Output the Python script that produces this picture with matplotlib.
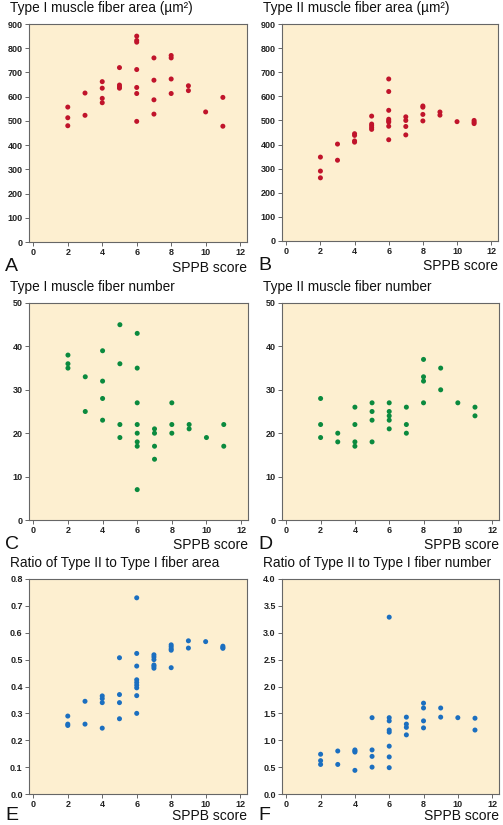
import matplotlib
matplotlib.use('Agg')
import matplotlib.pyplot as plt

plt.rcParams['font.family'] = ['Liberation Sans', 'DejaVu Sans']

# SPPB score / value pairs
a_x = [2, 2, 2, 3, 3, 4, 4, 4, 4, 5, 5, 5, 5, 6, 6, 6, 6, 6, 6, 6,
       7, 7, 7, 7, 8, 8, 8, 8, 9, 9, 10, 11, 11]
a_y = [557, 513, 480, 615, 523, 662, 635, 593, 575, 720, 648, 640, 635,
       850, 832, 825, 712, 638, 613, 498, 760, 668, 587, 528,
       770, 760, 673, 613, 645, 625, 537, 597, 478]

b_x = [2, 2, 2, 3, 3, 4, 4, 4, 4, 5, 5, 5, 5, 5, 6, 6, 6, 6, 6, 6, 6, 6,
       7, 7, 7, 7, 8, 8, 8, 8, 9, 9, 10, 11, 11, 11]
b_y = [348, 290, 262, 402, 335, 445, 438, 415, 410, 518, 485, 478, 470, 463,
       672, 620, 542, 505, 498, 493, 476, 420, 515, 500, 475, 440,
       560, 555, 525, 498, 535, 522, 495, 500, 493, 487]

c_x = [2, 2, 2, 3, 3, 4, 4, 4, 4, 5, 5, 5, 5, 6, 6, 6, 6, 6, 6, 6, 6,
       7, 7, 7, 7, 8, 8, 8, 9, 9, 10, 11, 11]
c_y = [38, 36, 35, 33, 25, 39, 32, 28, 23, 45, 36, 22, 19,
       43, 35, 27, 22, 20, 18, 17, 7, 21, 20, 17, 14, 27, 22, 20,
       22, 21, 19, 22, 17]

d_x = [2, 2, 2, 3, 3, 4, 4, 4, 4, 5, 5, 5, 5, 6, 6, 6, 6, 6,
       7, 7, 7, 8, 8, 8, 8, 9, 9, 10, 11, 11]
d_y = [28, 22, 19, 20, 18, 26, 22, 18, 17, 27, 25, 23, 18,
       27, 25, 24, 23, 21, 26, 22, 20, 37, 33, 32, 27, 35, 30, 27, 26, 24]

e_x = [2, 2, 2, 3, 3, 4, 4, 4, 4, 5, 5, 5, 5, 6, 6, 6, 6, 6, 6, 6, 6, 6,
       7, 7, 7, 7, 7, 7, 8, 8, 8, 8, 8, 9, 9, 10, 11, 11, 11]
e_y = [0.29, 0.26, 0.255, 0.345, 0.26, 0.365, 0.355, 0.34, 0.245,
       0.507, 0.37, 0.34, 0.28,
       0.73, 0.523, 0.476, 0.425, 0.415, 0.405, 0.395, 0.366, 0.30,
       0.518, 0.51, 0.50, 0.48, 0.475, 0.468,
       0.555, 0.548, 0.54, 0.535, 0.47, 0.57, 0.543, 0.567, 0.55, 0.545, 0.542]

f_x = [2, 2, 2, 3, 3, 4, 4, 4, 4, 5, 5, 5, 5, 6, 6, 6, 6, 6, 6, 6, 6,
       7, 7, 7, 7, 8, 8, 8, 8, 9, 9, 10, 11, 11]
f_y = [0.74, 0.62, 0.55, 0.80, 0.55, 0.82, 0.80, 0.78, 0.44,
       1.42, 0.82, 0.70, 0.50,
       3.29, 1.42, 1.36, 1.19, 1.15, 0.89, 0.69, 0.49,
       1.43, 1.30, 1.24, 1.10, 1.69, 1.60, 1.36, 1.23, 1.60, 1.43, 1.42, 1.41, 1.19]

RED = '#c0142b'
GREEN = '#0b8a3e'
BLUE = '#1b6fc0'

panels = [
    ('A', 'Type I muscle fiber area (\u00b5m\u00b2)', a_x, a_y, RED, 900, range(0, 901, 100), '{:.0f}'),
    ('B', 'Type II muscle fiber area (\u00b5m\u00b2)', b_x, b_y, RED, 900, range(0, 901, 100), '{:.0f}'),
    ('C', 'Type I muscle fiber number', c_x, c_y, GREEN, 50, range(0, 51, 10), '{:.0f}'),
    ('D', 'Type II muscle fiber number', d_x, d_y, GREEN, 50, range(0, 51, 10), '{:.0f}'),
    ('E', 'Ratio of Type II to Type I fiber area', e_x, e_y, BLUE, 0.8,
     [i / 10 for i in range(9)], '{:.1f}'),
    ('F', 'Ratio of Type II to Type I fiber number', f_x, f_y, BLUE, 4.0,
     [i / 2 for i in range(9)], '{:.1f}'),
]

# axes boxes in pixels: (left, top, right, bottom)
# bottom row nudged up a few px so its labels fit inside the canvas
boxes = [(29, 24, 247, 242), (282, 24, 498, 241),
         (29, 303, 248, 520), (282, 303, 499, 520),
         (29, 579, 247, 794), (282, 579, 499, 794)]

W, H = 503, 825
fig = plt.figure(figsize=(W / 100, H / 100), dpi=100)
fig.patch.set_facecolor('white')

for i, ((letter, title, xs, ys, color, ymax, yticks, fmt), (l, t, r, b)) in enumerate(zip(panels, boxes)):
    ax = fig.add_axes([l / W, 1 - b / H, (r - l) / W, (b - t) / H])
    ax.set_facecolor('#fdefd0')
    ax.scatter(xs, ys, s=13, color=color, edgecolors='none', zorder=3)
    ax.set_xlim(-0.25, 12.4)
    ax.set_ylim(0, ymax)
    ax.set_xticks(range(0, 13, 2))
    ax.set_yticks(list(yticks))
    ax.set_yticklabels([fmt.format(v) for v in yticks])
    for s in ax.spines.values():
        s.set_color('#666666')
        s.set_linewidth(0.8)
    ax.tick_params(length=3, width=0.7, color='#666666', labelsize=6.5,
                   labelcolor='#222222', pad=1.5)
    for lab in ax.get_xticklabels() + ax.get_yticklabels():
        lab.set_fontweight('bold')
    # panel title sits ~12 px above the frame, starting ~19 px left of it
    h = b - t
    ax.text(-19 / (r - l), 1 + 12 / h, title, transform=ax.transAxes,
            fontsize=9.8, color='#111111', ha='left', va='baseline')
    drop = 0.0 if i < 4 else 3 / h
    ax.text(1.0, -0.085 + drop, 'SPPB score', transform=ax.transAxes, fontsize=10,
            color='#111111', ha='right', va='top')
    ax.text(-0.11, -0.075 + drop, letter, transform=ax.transAxes, fontsize=14,
            color='#111111', ha='left', va='top')

fig.savefig('out.png', dpi=100)
